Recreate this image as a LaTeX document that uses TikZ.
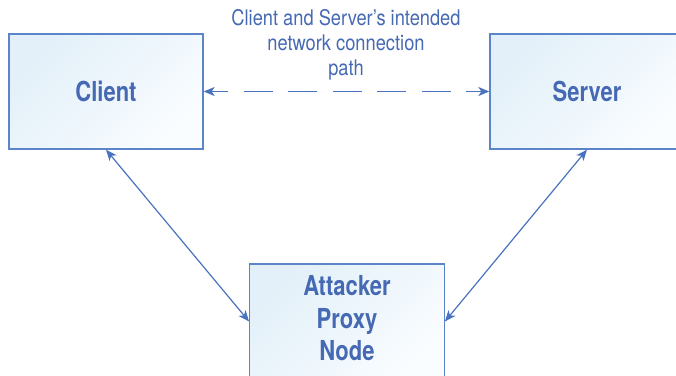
\documentclass[tikz,border=0pt]{standalone}
\usepackage{fontspec}
\setmainfont{TeX Gyre Heros}[FakeStretch=0.85]
\newfontfamily\condbold{TeX Gyre Heros}[FakeStretch=0.80]
\usetikzlibrary{arrows.meta}
\definecolor{txtblue}{HTML}{4669B3}
\definecolor{lineblue}{HTML}{4A72BE}
\definecolor{edgeblue}{HTML}{5C84C8}
\definecolor{paleblue}{HTML}{E3F0F9}
\definecolor{palewhite}{HTML}{FAFDFF}
\tikzset{
  box/.style={draw=edgeblue, line width=1.3pt, top color=paleblue, bottom color=palewhite,
    middle color=paleblue!55!palewhite, shading angle=45,
    minimum width=194pt, minimum height=115pt, inner sep=0pt,
    text=txtblue, font=\condbold\bfseries\fontsize{27.5}{32.5}\selectfont, align=center},
  boxtext/.style={text=txtblue, font=\condbold\bfseries\fontsize{27.5}{32.5}\selectfont, align=center, inner sep=0pt},
  note/.style={text=txtblue, font=\fontsize{21.5}{25}\selectfont, align=center, inner sep=0pt},
  link/.style={draw=lineblue, line width=1.2pt,
    {Stealth[length=11pt,width=9pt,inset=3pt]}-{Stealth[length=11pt,width=9pt,inset=3pt]}},
}
\begin{document}
\begin{tikzpicture}[x=1pt,y=-1pt]
  \useasboundingbox (0,0) rectangle (676,375);
  \clip (0,0) rectangle (676,375);
  % the three endpoints
  \node[box] (client) at (106,91.5) {Client};
  \node[box] (server) at (587,91.5) {Server};
  \node[box, minimum width=194.5pt] (attacker) at (347,321.5) {};
  \node[boxtext] (attackerlabel) at (347,318.5) {Attacker\\Proxy\\Node};
  % intended path between client and server
  \node[note] (pathnote) at (346,45) {Client and Server’s intended\\network connection\\path};
  \draw[link, dash pattern=on 29pt off 15.5pt, dash phase=12pt] (client.east) -- (server.west);
  % connections through the proxy
  \draw[link] (client.south) -- (attacker.west);
  \draw[link] (server.south) -- (attacker.east);
\end{tikzpicture}
\end{document}
